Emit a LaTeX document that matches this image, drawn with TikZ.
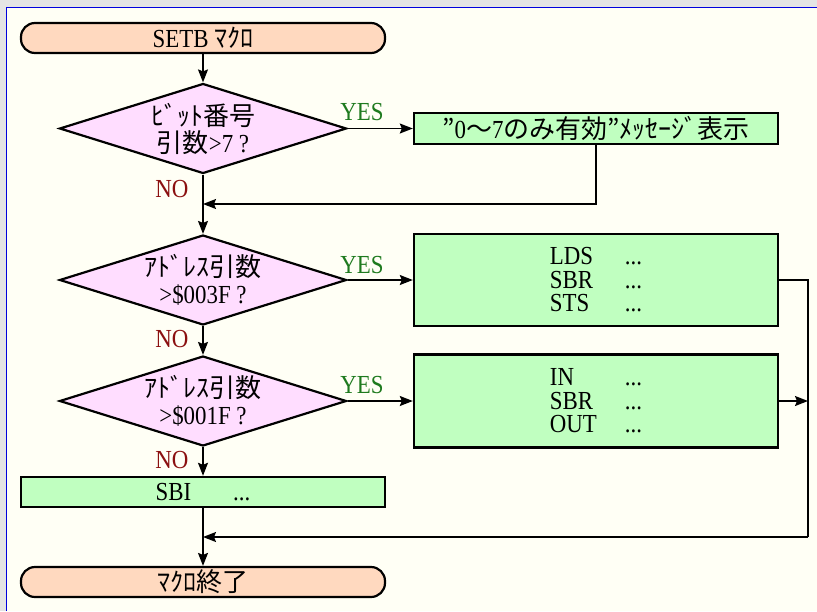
\documentclass[tikz,border=0pt]{standalone}
\usepackage{fontspec}
\setmainfont{Liberation Serif}[FakeStretch=0.88]
\newfontfamily\jp{Noto Sans CJK JP}
\usetikzlibrary{shapes.geometric,arrows.meta}
\definecolor{bgc}{HTML}{FFFFF5}
\definecolor{termc}{HTML}{FFD9BF}
\definecolor{decc}{HTML}{FFDDFF}
\definecolor{procc}{HTML}{C0FFC0}
\definecolor{yesc}{HTML}{1E7A1E}
\definecolor{noc}{HTML}{8B1010}
\definecolor{framec}{HTML}{0000DD}
\definecolor{greyc}{HTML}{E4E4E4}
\begin{document}
\begin{tikzpicture}[x=1pt,y=-1pt,
  every node/.style={font=\fontsize{26}{27}\selectfont},
  term/.style={draw, line width=2.2pt, fill=termc, rounded corners=14pt, minimum width=364pt, minimum height=30pt, inner sep=0pt},
  dec/.style={draw, diamond, line width=2.2pt, fill=decc, minimum width=287pt, minimum height=90pt, inner sep=0pt, aspect=3.2, align=center},
  proc/.style={draw, line width=2.4pt, fill=procc, minimum width=364pt, inner sep=0pt},
  multi/.style={font=\fontsize{26}{23.5}\selectfont, align=left},
  conn/.style={line width=1.5pt, -{Stealth[length=13pt,width=10pt,inset=2pt]}},
  plainline/.style={line width=1.5pt},
  yes/.style={text=yesc, inner sep=0pt},
  no/.style={text=noc, inner sep=0pt}]
\useasboundingbox (0,0) rectangle (817,611);
\fill[greyc] (0,0) rectangle (817,611);
\fill[bgc] (6,8) rectangle (817,611);
\draw[framec, line width=1.5pt] (6.5,611) -- (6.5,7.5) -- (817,7.5);

\node[term] (start) at (203,38) {SETB {\jp ﾏｸﾛ}};
\node[dec] (d1) at (203,128.5) {{\jp ﾋﾞｯﾄ番号}\\{\jp 引数}>7 ?};
\node[proc, minimum height=31pt] (b1) at (596,128.5) {{\jp ”}0{\jp ～}7{\jp のみ有効”ﾒｯｾｰｼﾞ表示}};
\node[dec] (d2) at (203,280) {{\jp ｱﾄﾞﾚｽ引数}\\>\$003F ?};
\node[proc, multi, minimum height=92pt] (b2) at (596,280) {\makebox[75pt][l]{LDS}...\\\makebox[75pt][l]{SBR}...\\\makebox[75pt][l]{STS}...};
\node[dec] (d3) at (203,401) {{\jp ｱﾄﾞﾚｽ引数}\\>\$001F ?};
\node[proc, multi, minimum height=93pt] (b3) at (596,401) {\makebox[75pt][l]{IN}...\\\makebox[75pt][l]{SBR}...\\\makebox[75pt][l]{OUT}...};
\node[proc, minimum height=30pt] (sbi) at (203,492) {SBI\hspace{42pt}...};
\node[term] (end) at (203,582) {{\jp ﾏｸﾛ終了}};

\coordinate (m1) at (203,204);
\coordinate (m2) at (203,537);
\coordinate (rt) at (808,280);
\coordinate (rb) at (808,537);
\coordinate (r3) at (808,401);

\draw[conn] (start.south) -- (d1.north);
\draw[conn] (d1.east) -- (b1.west);
\draw[conn] (d1.south) -- (d2.north);
\draw[conn] (b1.south) |- (m1);
\draw[conn] (d2.east) -- (b2.west);
\draw[conn] (d2.south) -- (d3.north);
\draw[conn] (d3.east) -- (b3.west);
\draw[conn] (d3.south) -- (sbi.north);
\draw[conn] (sbi.south) -- (end.north);
\draw[plainline] (b2.east) -- (rt) -- (rb);
\draw[conn] (rb) -- (m2);
\draw[conn] (b3.east) -- (r3);

\node[yes] (y1) at (362,112) {YES};
\node[no] (n1) at (172,189) {NO};
\node[yes] (y2) at (362,265) {YES};
\node[no] (n2) at (172,339) {NO};
\node[yes] (y3) at (362,385) {YES};
\node[no] (n3) at (172,460) {NO};
\end{tikzpicture}
\end{document}
